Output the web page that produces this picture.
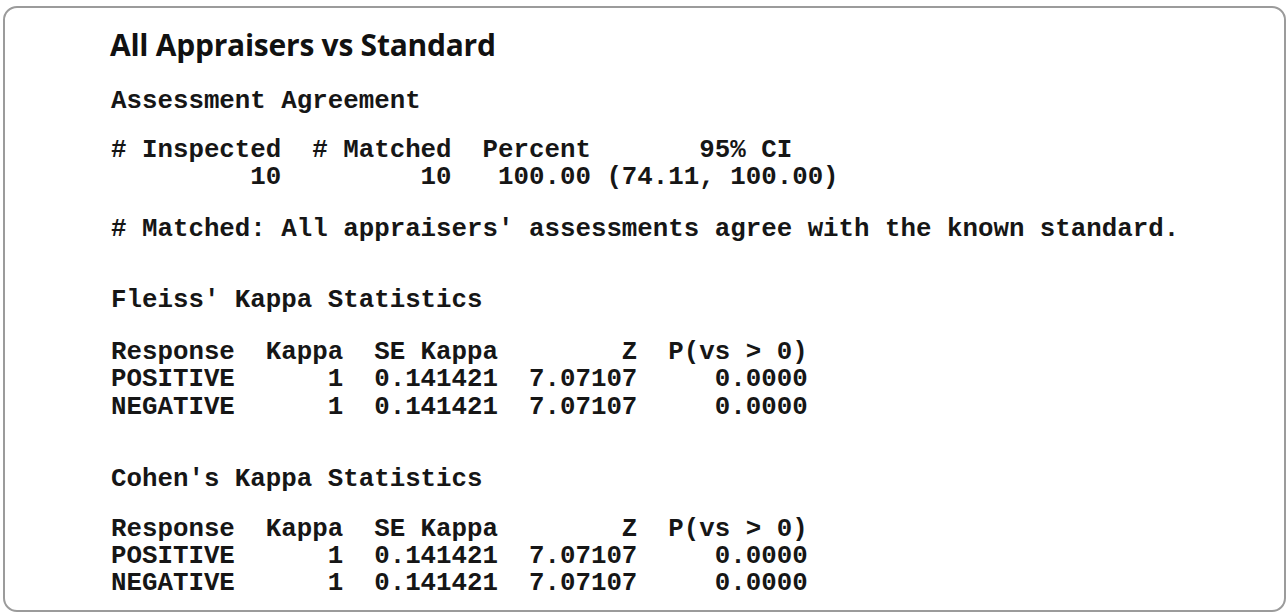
<!DOCTYPE html>
<html>
<head>
<meta charset="utf-8">
<script src="https://cdn.jsdelivr.net/npm/chart.js@4.4.1/dist/chart.umd.min.js"></script>
<style>
  html, body { margin:0; padding:0; background:#fff; }
  body { width:1287px; height:616px; position:relative; overflow:hidden; }
  .box {
    position:absolute; left:3px; top:6px; width:1279px; height:602px;
    border:2px solid #9b9b9b; border-radius:14px; background:#fff;
  }
  .title {
    position:absolute; left:110px; top:26px; margin:0;
    font-family:"Open Sans", "Noto Sans", sans-serif; font-weight:700;
    font-size:30px; line-height:38px; color:#111; letter-spacing:-0.25px;
  }
  .ln {
    position:absolute; left:111px; margin:0; white-space:pre;
    font-family:"Liberation Mono", "Courier New", monospace; font-weight:700;
    font-size:25.8px; line-height:22px; color:#161616;
  }
</style>
</head>
<body>
<div class="box"></div>
<h1 class="title">All Appraisers vs Standard</h1>
<div id="out"></div>
<script>
// ── Session output data ───────────────────────────────────────────────────────
const agreementTitle   = 'Assessment Agreement';
const agreementHeads   = ['# Inspected', '# Matched', 'Percent', '95% CI'];
const agreementValues  = [10, 10, '100.00'];
const agreementCI      = ['74.11', '100.00'];
const matchedNote      = "# Matched: All appraisers' assessments agree with the known standard.";

const kappaHeads       = ['Response', 'Kappa', 'SE Kappa', 'Z', 'P(vs > 0)'];
const responses        = ['POSITIVE', 'NEGATIVE'];

const fleissTitle      = "Fleiss' Kappa Statistics";
const fleissKappa      = ['1', '1'];
const fleissSE         = ['0.141421', '0.141421'];
const fleissZ          = ['7.07107', '7.07107'];
const fleissP          = ['0.0000', '0.0000'];

const cohenTitle       = "Cohen's Kappa Statistics";
const cohenKappa       = ['1', '1'];
const cohenSE          = ['0.141421', '0.141421'];
const cohenZ           = ['7.07107', '7.07107'];
const cohenP           = ['0.0000', '0.0000'];

// ── Fixed-width line builders ─────────────────────────────────────────────────
const kw = [8, 7, 10, 9, 11];   // column widths (chars)

function kappaRow(cells) {
  return cells.map((c, i) => i === 0 ? String(c).padEnd(kw[0]) : String(c).padStart(kw[i])).join('');
}

function kappaBlock(kappa, se, z, p) {
  const rows = [kappaRow(kappaHeads)];
  responses.forEach((r, i) => rows.push(kappaRow([r, kappa[i], se[i], z[i], p[i]])));
  return rows;
}

const aw = [11, 11, 9];
const agreeHead = agreementHeads.slice(0, 3).map((h, i) => h.padStart(aw[i])).join('')
  + '       ' + agreementHeads[3];
const agreeVals = agreementValues.map((v, i) => String(v).padStart(aw[i])).join('')
  + ' (' + agreementCI[0] + ', ' + agreementCI[1] + ')';

const fleiss = kappaBlock(fleissKappa, fleissSE, fleissZ, fleissP);
const cohen  = kappaBlock(cohenKappa, cohenSE, cohenZ, cohenP);

// line text + top offset (px)
const lines = [
  [agreementTitle, 91],
  [agreeHead, 140],
  [agreeVals, 167],
  [matchedNote, 219],
  [fleissTitle, 290],
  [fleiss[0], 342], [fleiss[1], 369], [fleiss[2], 397],
  [cohenTitle, 469],
  [cohen[0], 519], [cohen[1], 546], [cohen[2], 573],
];

const out = document.getElementById('out');
lines.forEach(([txt, top]) => {
  const d = document.createElement('div');
  d.className = 'ln';
  d.style.top = top + 'px';
  d.textContent = txt;
  out.appendChild(d);
});
</script>
</body>
</html>
